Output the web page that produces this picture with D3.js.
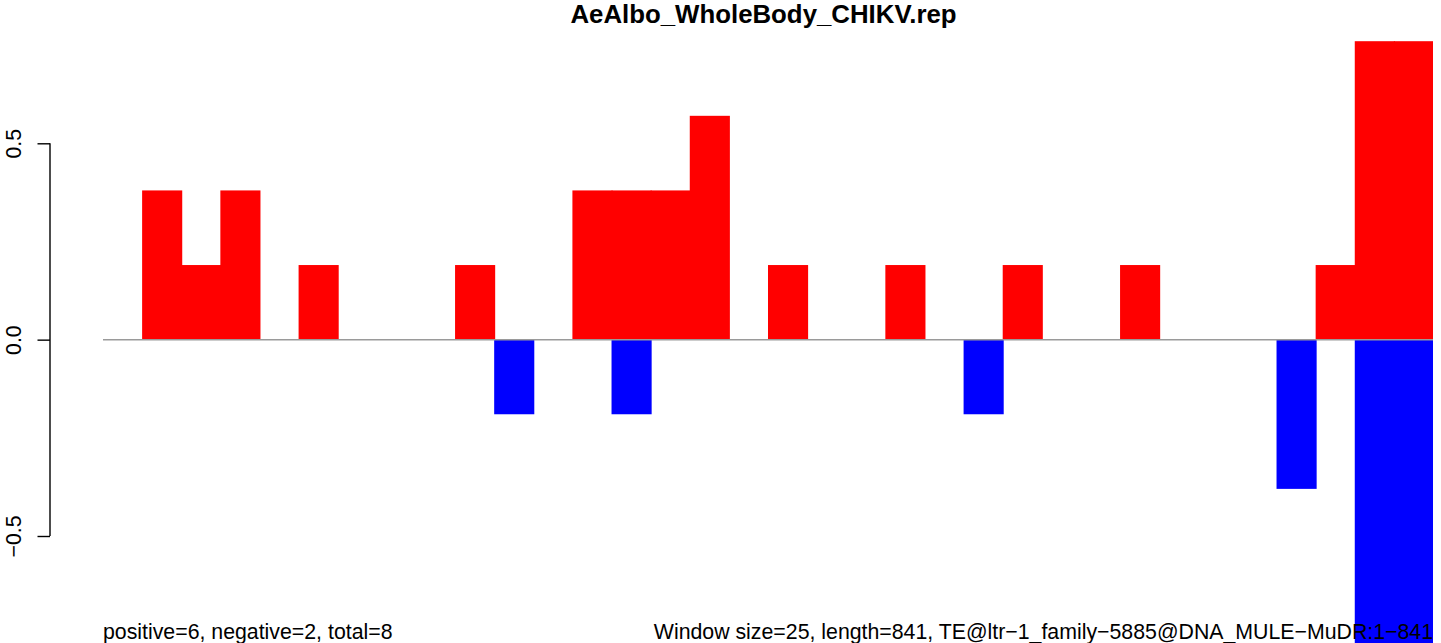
<!DOCTYPE html>
<html>
<head>
<meta charset="utf-8">
<script src="https://cdn.jsdelivr.net/npm/d3@7/dist/d3.min.js"></script>
<style>
  html, body { margin: 0; padding: 0; background: #fff; }
  svg { display: block; }
  text { font-family: "Liberation Sans", Arial, Helvetica, sans-serif; fill: #000; }
</style>
</head>
<body>
<svg id="chart" width="1441" height="643"></svg>
<script>
// ---- data ----
const windows = d3.range(34); // 34 windows of size 25 over length 841
const positiveValues = [0, 0.38, 0.19, 0.38, 0, 0.19, 0, 0, 0, 0.19,
                        0, 0, 0.38, 0.38, 0.38, 0.57, 0, 0.19, 0, 0,
                        0.19, 0, 0, 0.19, 0, 0, 0.19, 0, 0, 0,
                        0, 0.19, 0.76, 0.76];
const negativeValues = [0, 0, 0, 0, 0, 0, 0, 0, 0, 0,
                        -0.19, 0, 0, -0.19, 0, 0, 0, 0, 0, 0,
                        0, 0, -0.19, 0, 0, 0, 0, 0, 0, 0,
                        -0.38, 0, -0.95, -0.95];
const yTicks = [-0.5, 0, 0.5];
const titleText = "AeAlbo_WholeBody_CHIKV.rep";
const leftNote = "positive=6, negative=2, total=8";
const rightNote = "Window size=25, length=841, TE@ltr\u22121_family\u22125885@DNA_MULE\u2212MuDR:1\u2212841";

// ---- layout ----
const svg = d3.select("#chart");
const x = d3.scaleBand().domain(windows).range([103, 1433]).padding(0);
const y = d3.scaleLinear().domain([-0.5, 0.5]).range([536, 143.3]);
const baseFont = 21.3;

// bars (slight overlap to avoid seams between adjacent bars)
svg.append("g").selectAll("rect.pos")
  .data(windows.filter(i => positiveValues[i] > 0))
  .join("rect")
  .attr("x", i => x(i))
  .attr("width", i => (i < windows.length - 1 ? x.bandwidth() + 1 : x.bandwidth()))
  .attr("y", i => y(positiveValues[i]))
  .attr("height", i => y(0) - y(positiveValues[i]))
  .attr("fill", "#ff0000");

svg.append("g").selectAll("rect.neg")
  .data(windows.filter(i => negativeValues[i] < 0))
  .join("rect")
  .attr("x", i => x(i))
  .attr("width", i => (i < windows.length - 1 ? x.bandwidth() + 1 : x.bandwidth()))
  .attr("y", y(0))
  .attr("height", i => y(negativeValues[i]) - y(0))
  .attr("fill", "#0000ff");

// zero line
svg.append("line")
  .attr("x1", x.range()[0]).attr("x2", x.range()[1])
  .attr("y1", y(0)).attr("y2", y(0))
  .attr("stroke", "#9a9a9a").attr("stroke-width", 1.5);

// y axis (R style)
const axisX = 50;
const axis = d3.axisLeft(y).tickValues(yTicks).tickSize(12.5).tickPadding(0)
  .tickFormat(d => d3.format(".1f")(d).replace("-", "\u2212"));
const ag = svg.append("g").attr("transform", `translate(${axisX},0)`).call(axis);
ag.select(".domain").attr("d", `M0,${y(-0.5)}V${y(0.5)}`).attr("stroke", "#000").attr("stroke-width", 1.4);
ag.selectAll(".tick line").attr("stroke", "#000").attr("stroke-width", 1.4);
ag.selectAll(".tick text")
  .attr("x", null).attr("dy", null)
  .attr("transform", `translate(${20.5 - axisX},0) rotate(-90)`)
  .attr("text-anchor", "middle")
  .style("font-family", '"Liberation Sans", Arial, sans-serif')
  .style("font-size", baseFont + "px")
  .attr("fill", "#000");

// title
svg.append("text")
  .attr("x", 763.5).attr("y", 23)
  .attr("text-anchor", "middle")
  .style("font-weight", "bold")
  .style("font-size", "25.8px")
  .text(titleText);

// bottom notes
svg.append("text")
  .attr("x", 103).attr("y", 638.5)
  .attr("text-anchor", "start")
  .style("font-size", baseFont + "px")
  .text(leftNote);

svg.append("text")
  .attr("x", 1433).attr("y", 638.5)
  .attr("text-anchor", "end")
  .style("font-size", baseFont + "px")
  .text(rightNote);
</script>
</body>
</html>
